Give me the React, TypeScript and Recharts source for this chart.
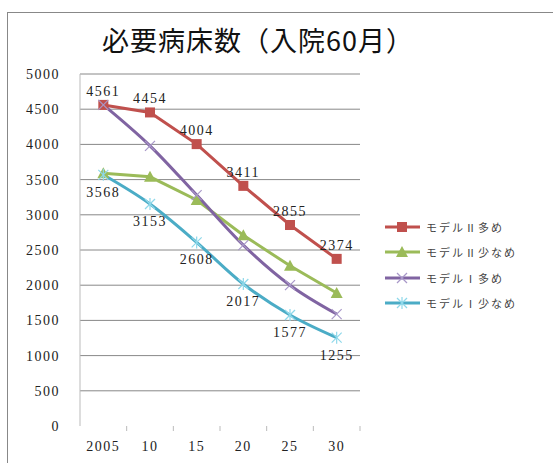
import { CartesianGrid, LabelList, Line, LineChart, XAxis, YAxis } from 'recharts';

// 必要病床数 (入院60月) — four model scenarios, 2005–2030

const years = ['2005', '10', '15', '20', '25', '30'];
const model2High = [4561, 4454, 4004, 3411, 2855, 2374];
const model2Low = [3590, 3540, 3210, 2710, 2275, 1890];
const model1High = [4561, 3980, 3280, 2570, 2000, 1590];
const model1Low = [3568, 3153, 2608, 2017, 1577, 1255];
const yTicks = [0, 500, 1000, 1500, 2000, 2500, 3000, 3500, 4000, 4500, 5000];

const series = [
  { key: 'm2h', name: 'モデルⅡ多め', color: '#C0504D', values: model2High, marker: 'square', curve: 'linear' },
  { key: 'm2l', name: 'モデルⅡ少なめ', color: '#9BBB59', values: model2Low, marker: 'triangle', curve: 'linear' },
  { key: 'm1h', name: 'モデルⅠ多め', color: '#8064A2', values: model1High, marker: 'cross', curve: 'monotone' },
  { key: 'm1l', name: 'モデルⅠ少なめ', color: '#4BACC6', values: model1Low, marker: 'star', curve: 'monotone' },
];

const data = years.map((year, i) => ({
  year,
  m2h: model2High[i],
  m2l: model2Low[i],
  m1h: model1High[i],
  m1l: model1Low[i],
}));

const W = 553;
const H = 463;
const margin = { top: 74, right: 193, bottom: 7, left: 20 };
const yAxisWidth = 60;
const plotWidth = W - margin.left - margin.right - yAxisWidth;
const halfBand = plotWidth / years.length / 2;

const serif = '"Liberation Serif", "DejaVu Serif", serif';
const jp = '"Noto Sans CJK JP", sans-serif';

function Marker({ cx, cy, kind, color }: any) {
  if (cx == null || cy == null) return null;
  if (kind === 'square') {
    return <rect x={cx - 5} y={cy - 5} width={10} height={10} fill={color} />;
  }
  if (kind === 'triangle') {
    return <path d={`M${cx},${cy - 6} L${cx + 6},${cy + 5} L${cx - 6},${cy + 5} Z`} fill={color} />;
  }
  const light = kind === 'cross' ? '#A898C8' : '#8ED8EA';
  return (
    <g stroke={light} strokeWidth={1.2}>
      <line x1={cx - 5} y1={cy - 5} x2={cx + 5} y2={cy + 5} />
      <line x1={cx - 5} y1={cy + 5} x2={cx + 5} y2={cy - 5} />
      {kind === 'star' && <line x1={cx} y1={cy - 6} x2={cx} y2={cy + 6} />}
    </g>
  );
}

function XTick({ x, y, payload }: any) {
  return (
    <g>
      <line x1={x + halfBand} y1={y - 8} x2={x + halfBand} y2={y - 3} stroke="#bbb" />
      <text x={x} y={y + 17} textAnchor="middle" fontFamily={serif} fontSize={14} letterSpacing={1.5} fill="#222">
        {payload.value}
      </text>
    </g>
  );
}

function LegendBox() {
  return (
    <div style={{ fontFamily: jp, fontSize: 11, color: '#444' }}>
      {series.map((s) => (
        <div key={s.key} style={{ display: 'flex', alignItems: 'center', height: 25.5 }}>
          <svg width={38} height={14}>
            <line x1={1} y1={7} x2={36} y2={7} stroke={s.color} strokeWidth={3} />
            <Marker cx={18} cy={7} kind={s.marker} color={s.color} />
          </svg>
          <span style={{ marginLeft: 4, letterSpacing: 2 }}>{s.name}</span>
        </div>
      ))}
    </div>
  );
}

export default function App() {
  return (
    <div style={{ position: 'absolute', left: 0, top: 0, width: W, height: H, overflow: 'hidden', background: '#fff' }}>
      <div
        style={{
          position: 'absolute',
          left: 7,
          top: 12,
          width: 600,
          height: 500,
          borderLeft: '1px solid #888',
          borderTop: '1px solid #888',
        }}
      />
      <div
        style={{
          position: 'absolute',
          left: 0,
          top: 20,
          width: 516,
          textAlign: 'center',
          fontFamily: jp,
          fontSize: 27,
          color: '#111',
          letterSpacing: 1,
        }}
      >
        必要病床数（入院60月）
      </div>
      <div style={{ position: 'absolute', left: 0, top: 0 }}>
        <LineChart width={W} height={H} data={data} margin={margin}>
          <CartesianGrid vertical={false} stroke="#888" horizontalValues={yTicks.slice(1)} />
          <XAxis
            dataKey="year"
            scale="band"
            height={30}
            axisLine={false}
            tickLine={false}
            tick={<XTick />}
            interval={0}
          />
          <YAxis
            width={yAxisWidth}
            domain={[0, 5000]}
            ticks={yTicks}
            axisLine={{ stroke: '#bbb' }}
            tickLine={false}
            tickMargin={14}
            tick={{ fontFamily: serif, fontSize: 14, fill: '#222', letterSpacing: 1.5 }}
          />
          {series.map((s) => (
            <Line
              key={s.key}
              type={s.curve as any}
              dataKey={s.key}
              name={s.name}
              stroke={s.color}
              strokeWidth={3}
              dot={<Marker kind={s.marker} color={s.color} />}
              activeDot={false}
              isAnimationActive={false}
            >
              {s.key === 'm2h' && (
                <LabelList dataKey="m2h" position="top" offset={9} fontFamily={serif} fontSize={14} letterSpacing={1.5} fill="#222" />
              )}
              {s.key === 'm1l' && (
                <LabelList dataKey="m1l" position="bottom" offset={12} fontFamily={serif} fontSize={14} letterSpacing={1.5} fill="#222" />
              )}
            </Line>
          ))}
        </LineChart>
      </div>
      <div style={{ position: 'absolute', left: 384, top: 214, width: 170 }}>
        <LegendBox />
      </div>
    </div>
  );
}
